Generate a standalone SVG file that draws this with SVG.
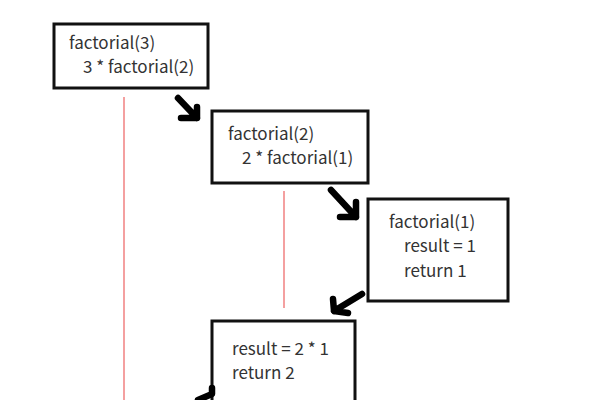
<svg xmlns="http://www.w3.org/2000/svg" width="600" height="400" viewBox="0 0 600 400">
<style>
.box{fill:#fff;stroke:#111;stroke-width:3}
.t{font-family:"Noto Sans CJK JP","Noto Sans",sans-serif;font-size:17px;fill:#333}
.life{stroke:#f4a0a0;stroke-width:2}
.arr{fill:none;stroke:#000;stroke-width:6.5;stroke-linecap:round;stroke-linejoin:round}
</style>
<rect width="600" height="400" fill="#fff"/>
<g id="lifelines">
<line class="life" x1="124" y1="97" x2="124" y2="400"/>
<line class="life" x1="284" y1="191" x2="284" y2="308"/>
</g>
<g id="n1">
<rect class="box" x="54" y="24" width="154" height="64"/>
<text class="t" x="69" y="49">factorial(3)</text>
<text class="t" x="83" y="73">3 * factorial(2)</text>
</g>
<g id="n2">
<rect class="box" x="212" y="111" width="156" height="72"/>
<text class="t" x="228" y="140">factorial(2)</text>
<text class="t" x="242" y="164">2 * factorial(1)</text>
</g>
<g id="n3">
<rect class="box" x="368" y="199" width="140" height="102"/>
<text class="t" x="389" y="228">factorial(1)</text>
<text class="t" x="404" y="252">result = 1</text>
<text class="t" x="404" y="277">return 1</text>
</g>
<g id="n4">
<rect class="box" x="212" y="321" width="143" height="90"/>
<text class="t" x="232" y="355">result = 2 * 1</text>
<text class="t" x="232" y="379">return 2</text>
</g>
<g id="connectors">
<path class="arr" d="M178,98 L197,118 M181,118 L197,118 L197,107"/>
<path class="arr" d="M331,190 L356,217 M340,217 L356,217 L356,202"/>
<path class="arr" d="M362,294 L334,311 M333,299 L334,311 L348,313"/>
<path class="arr" d="M212,388 L212,394 L198,400"/>
</g>
</svg>
